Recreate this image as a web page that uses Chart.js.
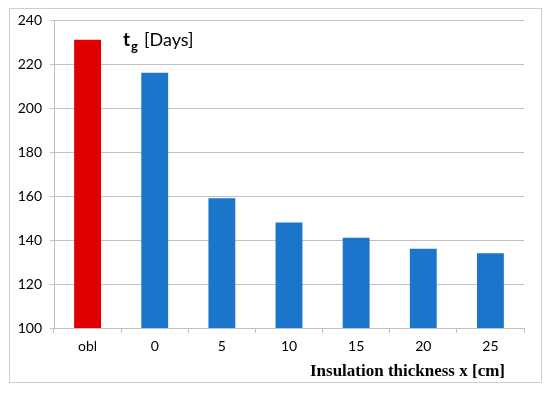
<!DOCTYPE html>
<html>
<head>
<meta charset="utf-8">
<script src="https://cdn.jsdelivr.net/npm/chart.js@4"></script>
<style>
  html, body { margin: 0; padding: 0; background: #fff; }
  #wrap { width: 550px; height: 393px; }
</style>
</head>
<body>
<div id="wrap"><canvas id="chart" width="550" height="393"></canvas></div>
<script>
// ─── DATA ───
const categories = ['obl', '0', '5', '10', '15', '20', '25'];
const days = [231, 216, 159, 148, 141, 136, 134];
const barColors = ['#e00000', '#1b75cb', '#1b75cb', '#1b75cb', '#1b75cb', '#1b75cb', '#1b75cb'];
const yMin = 100, yMax = 240, yStep = 20;

const gridGray = '#c0c0c0';

// ─── DECORATIONS: frame, inner title, axis title ───
const decor = {
  id: 'decor',
  beforeDraw(chart) {
    const c = chart.ctx;
    c.save();
    c.strokeStyle = '#cfcfcf';
    c.lineWidth = 1;
    c.strokeRect(9.5, 8.5, 532, 374);
    c.restore();
  },
  afterDraw(chart) {
    const c = chart.ctx;
    c.save();
    c.fillStyle = '#000';
    c.textBaseline = 'alphabetic';
    // t_g [Days]
    c.font = 'bold 19px Lato';
    c.fillText('t', 123, 46);
    const tw = c.measureText('t').width;
    c.font = 'bold 13px Lato';
    c.fillText('g', 123 + tw + 1, 51);
    c.font = '18px Lato';
    c.fillText('[Days]', 144, 46);
    // x axis title
    c.font = 'bold 17px "Liberation Serif"';
    c.textAlign = 'right';
    c.fillText('Insulation thickness x [cm]', 505, 376);
    c.restore();
  }
};

new Chart(document.getElementById('chart'), {
  type: 'bar',
  data: {
    labels: categories,
    datasets: [{
      data: days,
      backgroundColor: barColors,
      borderWidth: 0,
      categoryPercentage: 1,
      barPercentage: 0.4
    }]
  },
  options: {
    responsive: false,
    animation: false,
    layout: { padding: { left: 10, right: 26, top: 20, bottom: 0 } },
    plugins: {
      legend: { display: false },
      tooltip: { enabled: false }
    },
    scales: {
      x: {
        grid: { display: true, drawOnChartArea: false, drawTicks: true, tickLength: 5, color: gridGray, offset: true },
        border: { display: true, color: gridGray },
        ticks: { color: '#000', font: { family: 'Lato', size: 14 }, padding: 5 },
        afterFit: s => { s.height = 65; }
      },
      y: {
        min: yMin,
        max: yMax,
        grid: { color: gridGray, tickLength: 4 },
        border: { display: true, color: gridGray },
        ticks: { stepSize: yStep, color: '#000', font: { family: 'Lato', size: 14 }, padding: 8 },
        afterFit: s => { s.width = 44; }
      }
    }
  },
  plugins: [decor]
});
</script>
</body>
</html>
